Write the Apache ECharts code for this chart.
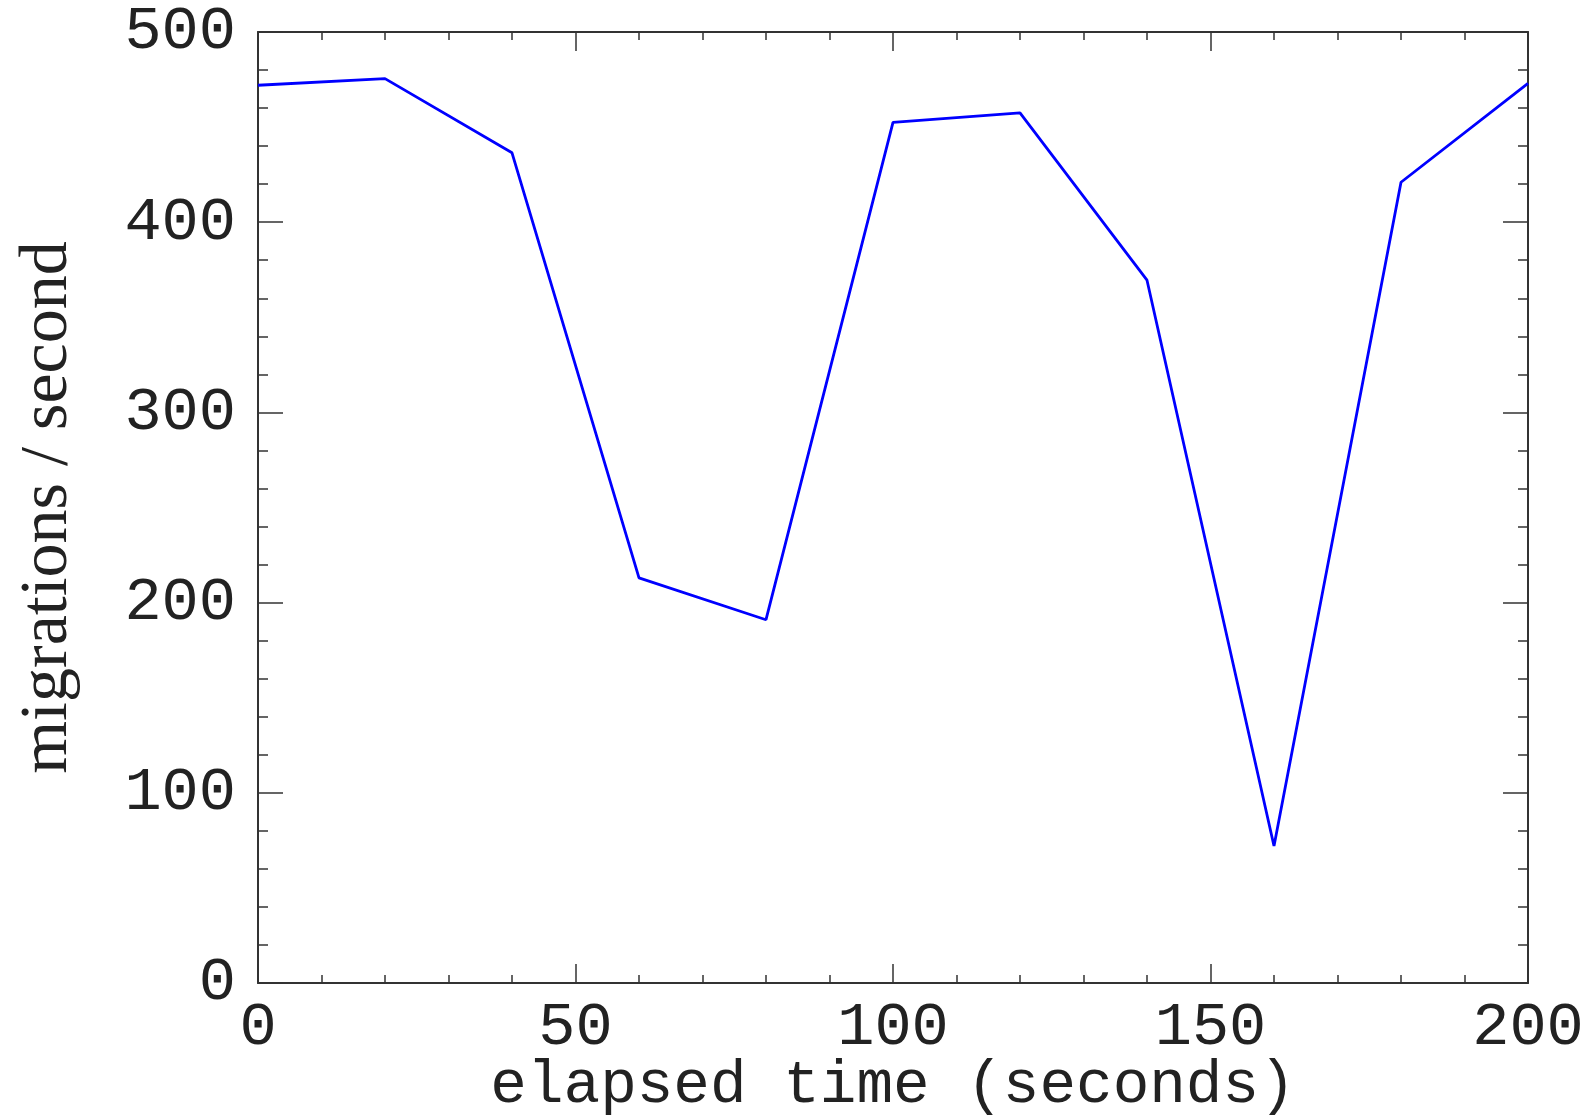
<!DOCTYPE html>
<html>
<head>
<meta charset="utf-8">
<script src="https://cdn.jsdelivr.net/npm/echarts@6/dist/echarts.min.js"></script>
<style>
html,body{margin:0;padding:0;background:#fff;}
#chart{width:1595px;height:1116px;}
</style>
</head>
<body>
<div id="chart"></div>
<script>
// Data
var elapsedSeconds = [0, 20, 40, 60, 80, 100, 120, 140, 160, 180, 200];
var migrationsPerSecond = [472, 475.5, 436.5, 213, 191, 452.5, 457.5, 369.5, 72, 421, 473];
var xTickLabels = ['0', '50', '100', '150', '200'];
var yTickLabels = ['0', '100', '200', '300', '400', '500'];
var xTitle = 'elapsed time (seconds)';
var yTitle = 'migrations / second';

var seriesData = elapsedSeconds.map(function (x, i) { return [x, migrationsPerSecond[i]]; });

var axisColor = '#333';
var textColor = '#222';
var monoFont = '"Liberation Mono", "DejaVu Sans Mono", monospace';
var serifFont = '"Liberation Serif", "DejaVu Serif", serif';

function xAxisCfg(pos, showLabels) {
  return {
    type: 'value', position: pos, min: 0, max: 200, interval: 50,
    name: showLabels ? xTitle : '',
    nameLocation: 'middle', nameGap: 72, nameMoveOverlap: false,
    nameTextStyle: { fontFamily: monoFont, fontSize: 61, color: textColor },
    axisLine: { show: true, onZero: false, lineStyle: { color: axisColor, width: 2 } },
    axisTick: { show: true, inside: true, length: 19, lineStyle: { color: axisColor, width: 1.5 } },
    minorTick: { show: true, splitNumber: 5, length: 8, lineStyle: { color: axisColor, width: 1.5 } },
    splitLine: { show: false }, minorSplitLine: { show: false },
    axisLabel: {
      show: showLabels, margin: 14, fontFamily: monoFont, fontSize: 62, color: textColor,
      formatter: function (v) { return xTickLabels[Math.round(v / 50)]; }
    }
  };
}
function yAxisCfg(pos, showLabels) {
  return {
    type: 'value', position: pos, min: 0, max: 500, interval: 100,
    name: showLabels ? yTitle : '',
    nameLocation: 'middle', nameGap: 176, nameRotate: 90, nameMoveOverlap: false,
    nameTextStyle: { fontFamily: serifFont, fontSize: 68, color: textColor },
    axisLine: { show: true, onZero: false, lineStyle: { color: axisColor, width: 2 } },
    axisTick: { show: true, inside: true, length: 25, lineStyle: { color: axisColor, width: 1.5 } },
    minorTick: { show: true, splitNumber: 5, length: 10, lineStyle: { color: axisColor, width: 1.5 } },
    splitLine: { show: false }, minorSplitLine: { show: false },
    axisLabel: {
      show: showLabels, margin: 22, fontFamily: monoFont, fontSize: 62, color: textColor,
      formatter: function (v) { return yTickLabels[Math.round(v / 100)]; }
    }
  };
}

var chart = echarts.init(document.getElementById('chart'), null, { renderer: 'canvas' });
chart.setOption({
  animation: false,
  backgroundColor: '#fff',
  grid: { left: 258, right: 67, top: 32, bottom: 133, containLabel: false, outerBoundsMode: 'none' },
  xAxis: [xAxisCfg('bottom', true), xAxisCfg('top', false)],
  yAxis: [yAxisCfg('left', true), yAxisCfg('right', false)],
  series: [{
    type: 'line', xAxisIndex: 0, yAxisIndex: 0,
    data: seriesData, showSymbol: false, symbol: 'none',
    lineStyle: { color: '#0000ff', width: 2.8 },
    itemStyle: { color: '#0000ff' }
  }]
});
</script>
</body>
</html>
